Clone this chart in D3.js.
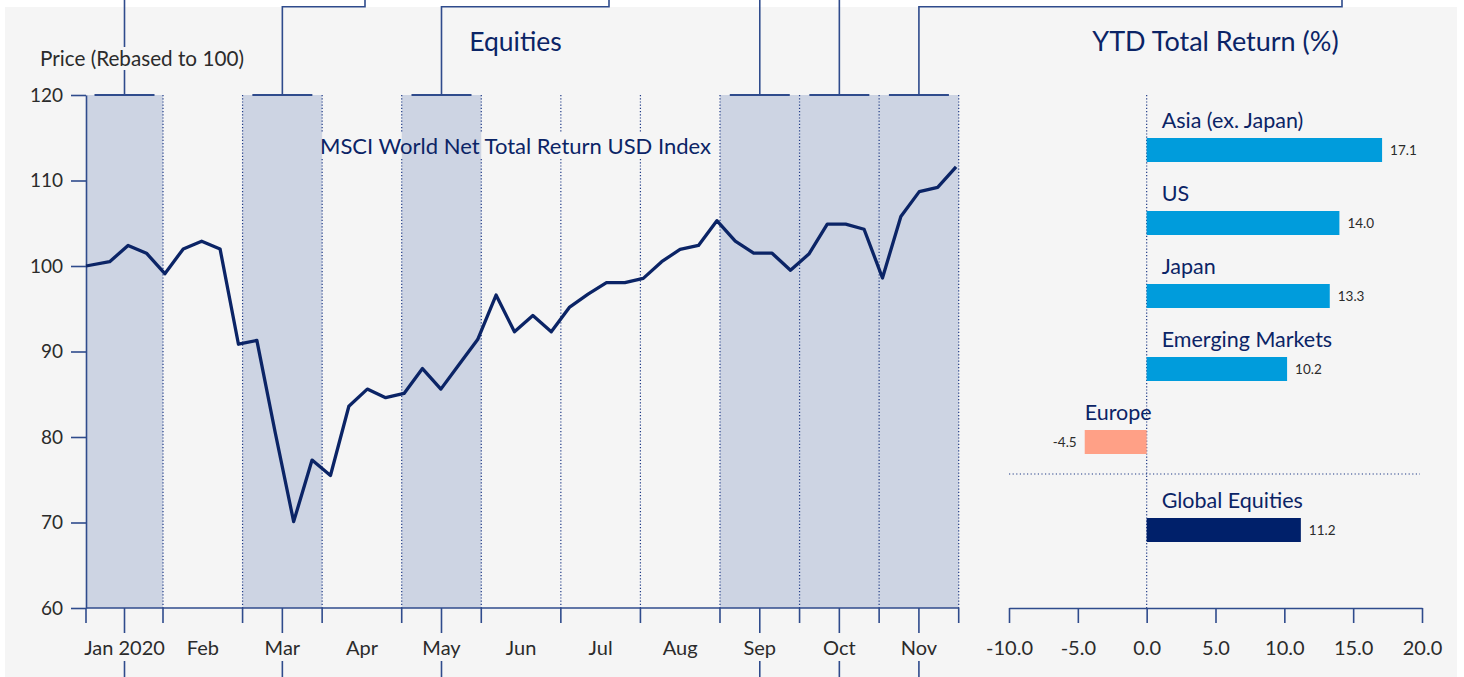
<!DOCTYPE html>
<html>
<head>
<meta charset="utf-8">
<script src="https://cdn.jsdelivr.net/npm/d3@7"></script>
<style>
  body { margin: 0; background: #fff; }
  text { font-family: Lato, "Open Sans", sans-serif; }
</style>
</head>
<body>
<div class="chart"></div>
<script>
// ---- data ----
const dates = [
  '2020-01-01', '2020-01-10', '2020-01-17', '2020-01-24', '2020-01-31',
  '2020-02-07', '2020-02-14', '2020-02-21', '2020-02-28',
  '2020-03-06', '2020-03-13', '2020-03-20', '2020-03-27',
  '2020-04-03', '2020-04-10', '2020-04-17', '2020-04-24',
  '2020-05-01', '2020-05-08', '2020-05-15', '2020-05-22', '2020-05-29',
  '2020-06-05', '2020-06-12', '2020-06-19', '2020-06-26',
  '2020-07-03', '2020-07-10', '2020-07-17', '2020-07-24', '2020-07-31',
  '2020-08-07', '2020-08-14', '2020-08-21', '2020-08-28',
  '2020-09-04', '2020-09-11', '2020-09-18', '2020-09-25',
  '2020-10-02', '2020-10-09', '2020-10-16', '2020-10-23', '2020-10-30',
  '2020-11-06', '2020-11-13', '2020-11-20', '2020-11-27'
];
const msciWorld = [
  100.0, 100.5, 102.4, 101.5, 99.1,
  102.0, 102.9, 102.0, 90.85,
  91.3, 80.5, 70.1, 77.3,
  75.5, 83.6, 85.6, 84.6,
  85.1, 88.0, 85.6, 88.5, 91.4,
  96.6, 92.3, 94.2, 92.3,
  95.2, 96.7, 98.05, 98.05, 98.55,
  100.5, 101.95, 102.4, 105.3,
  102.9, 101.5, 101.5, 99.5,
  101.4, 104.9, 104.9, 104.3, 98.6,
  105.8, 108.7, 109.2, 111.6
];
const months = ['Jan 2020', 'Feb', 'Mar', 'Apr', 'May', 'Jun', 'Jul', 'Aug', 'Sep', 'Oct', 'Nov'];
const shadedMonths = ['Jan 2020', 'Mar', 'May', 'Sep', 'Oct', 'Nov'];
const priceTicks = [60, 70, 80, 90, 100, 110, 120];

const regions = ['Asia (ex. Japan)', 'US', 'Japan', 'Emerging Markets', 'Europe', 'Global Equities'];
const ytdReturn = [17.1, 14.0, 13.3, 10.2, -4.5, 11.2];
const returnTicks = [-10, -5, 0, 5, 10, 15, 20];

// ---- layout ----
const W = 1464, H = 677;
const navy = '#0b2466', axisCol = '#2f4b8c', textGrey = '#2b2b2b', panel = '#f5f5f5';
const plotTop = 95, plotBottom = 608;
const leaderTops = {'Mar': 365, 'May': 609, 'Nov': 1342};   // where the cut-off annotation leaders exit the frame
const fmt = d => d.toFixed(1);   // plain hyphen for negatives, like the original

const svg = d3.select('.chart').append('svg')
    .attr('width', W).attr('height', H);

svg.append('rect').attr('width', W).attr('height', H).attr('fill', '#fff');
svg.append('rect').attr('x', 5).attr('y', 7).attr('width', 1452).attr('height', H - 7).attr('fill', panel);

// ---- left: line chart ----
let yScale = d3.scaleLinear().domain([60, 120]).range([plotBottom, plotTop]);
// months are drawn as equal-width bands; the first trading day sits a little into January
let monthEdge = d3.scaleLinear().domain([1 / 31, months.length]).range([86, 958.7]);
let xTime = d3.scaleTime()
    .domain([new Date(2020, 0, 1), new Date(2020, 10, 28)])
    .range([86, 958.7]);

const edges = [1 / 31].concat(d3.range(1, months.length + 1));
const monthInfo = months.map((m, i) => {
  const x0 = monthEdge(edges[i]), x1 = monthEdge(edges[i + 1]);
  return {name: m, x0, x1, cx: (x0 + x1) / 2, shaded: shadedMonths.includes(m)};
});

// shaded bands
svg.append('g').selectAll('rect')
  .data(monthInfo.filter(d => d.shaded))
  .join('rect')
    .attr('x', d => d.x0).attr('y', plotTop)
    .attr('width', d => d.x1 - d.x0).attr('height', plotBottom - plotTop)
    .attr('fill', '#cdd4e3');

// dotted month boundaries (masked later under the series label)
const mask = svg.append('defs').append('mask').attr('id', 'label-gap')
    .attr('maskUnits', 'userSpaceOnUse')
    .attr('x', 0).attr('y', 0).attr('width', W).attr('height', H);
mask.append('rect').attr('width', W).attr('height', H).attr('fill', '#fff');

svg.append('g')
    .attr('mask', 'url(#label-gap)')
  .selectAll('line')
  .data(edges.slice(1))
  .join('line')
    .attr('x1', d => monthEdge(d)).attr('x2', d => monthEdge(d))
    .attr('y1', plotTop).attr('y2', plotBottom)
    .attr('stroke', '#1f3a86').attr('stroke-width', 1.2)
    .attr('stroke-dasharray', '1.2,2');

// annotation leaders (cut off by the frame)
const leaders = svg.append('g').attr('stroke', axisCol).attr('stroke-width', 1.6).attr('fill', 'none');
monthInfo.filter(d => d.shaded).forEach(d => {
  leaders.append('line')
      .attr('x1', d.cx - 30).attr('x2', d.cx + 30)
      .attr('y1', plotTop).attr('y2', plotTop)
      .attr('stroke-width', 2);
  const key = d.name;
  if (leaderTops[key]) {
    leaders.append('path')
        .attr('d', `M${d.cx},${plotTop}V6.7H${leaderTops[key]}V0`);
  } else {
    leaders.append('line')
        .attr('x1', d.cx).attr('x2', d.cx).attr('y1', plotTop).attr('y2', 0);
  }
  leaders.append('line')
      .attr('x1', d.cx).attr('x2', d.cx).attr('y1', plotBottom).attr('y2', H);
});

// y axis
let yAxis = d3.axisLeft(yScale)
    .tickValues(priceTicks)
    .tickSize(15)
    .tickSizeOuter(0)
    .tickPadding(8);
let gy = svg.append('g')
    .attr('transform', 'translate(86, 0)')
    .call(yAxis);
gy.select('.domain').attr('stroke', axisCol).attr('stroke-width', 1.6);
gy.selectAll('.tick line').attr('stroke', axisCol).attr('stroke-width', 1.6);
gy.selectAll('.tick text')
    .attr('fill', textGrey).style('font-size', '19px').style('font-family', 'Lato');

// x axis: boundary ticks
let gx = svg.append('g');
gx.append('line')
    .attr('x1', monthEdge(edges[0])).attr('x2', monthEdge(months.length))
    .attr('y1', plotBottom).attr('y2', plotBottom)
    .attr('stroke', axisCol).attr('stroke-width', 1.6);
gx.selectAll('line.edge')
  .data(edges)
  .join('line')
    .attr('class', 'edge')
    .attr('x1', d => monthEdge(d)).attr('x2', d => monthEdge(d))
    .attr('y1', plotBottom).attr('y2', plotBottom + 15)
    .attr('stroke', axisCol).attr('stroke-width', 1.6);
const monthLabels = gx.selectAll('g.mlabel')
  .data(monthInfo)
  .join('g')
    .attr('class', 'mlabel')
    .attr('transform', d => `translate(${d.cx}, 655)`);
monthLabels.filter(d => d.shaded).append('rect')
    .attr('x', -6).attr('y', -22).attr('width', 12).attr('height', 28)
    .attr('fill', panel);
monthLabels.append('text')
    .attr('text-anchor', 'middle')
    .attr('fill', textGrey)
    .style('font-size', '20px')
    .text(d => d.name);

// price line
const series = dates.map((d, i) => ({date: d3.timeParse('%Y-%m-%d')(d), v: msciWorld[i]}));
svg.append('path')
    .datum(series)
    .attr('d', d3.line().x(d => xTime(d.date)).y(d => yScale(d.v)))
    .attr('fill', 'none')
    .attr('stroke', navy)
    .attr('stroke-width', 3.3)
    .attr('stroke-linejoin', 'round');

const seriesLabel = svg.append('text')
    .attr('x', 320).attr('y', 154)
    .attr('fill', navy)
    .style('font-size', '22px')
    .text('MSCI World Net Total Return USD Index');
const lb = seriesLabel.node().getBBox();
mask.append('rect')
    .attr('x', lb.x - 2).attr('y', lb.y)
    .attr('width', lb.width + 4).attr('height', lb.height)
    .attr('fill', '#000');

// axis title with a mask so the Jan leader breaks behind it
const priceLabel = svg.append('g');
priceLabel.append('rect').attr('x', 100).attr('y', 47).attr('width', 40).attr('height', 23).attr('fill', panel);
priceLabel.append('text')
    .attr('x', 40).attr('y', 66)
    .attr('fill', textGrey)
    .style('font-size', '20.7px')
    .text('Price (Rebased to 100)');

svg.append('text')
    .attr('x', 515.5).attr('y', 51)
    .attr('text-anchor', 'middle')
    .attr('fill', navy)
    .style('font-size', '26.5px')
    .text('Equities');

// ---- right: YTD bars ----
let xBar = d3.scaleLinear().domain([-10, 20]).range([1009, 1422]);
let yBar = d3.scaleBand()
    .domain(regions)
    .range([101.5, 563.5])
    .paddingInner(49 / 73)
    .paddingOuter(0.5);
const globalGap = 15;
const barY = r => yBar(r) + (r === 'Global Equities' ? globalGap : 0);
const barColour = (r, v) => r === 'Global Equities' ? '#00206a' : (v < 0 ? '#ffa086' : '#009cdc');

svg.append('text')
    .attr('x', (xBar(-10) + xBar(20)) / 2).attr('y', 51)
    .attr('text-anchor', 'middle')
    .attr('fill', navy)
    .style('font-size', '27px')
    .text('YTD Total Return (%)');

svg.append('line')
    .attr('x1', xBar(0)).attr('x2', xBar(0))
    .attr('y1', plotTop).attr('y2', plotBottom)
    .attr('stroke', '#1f3a86').attr('stroke-width', 1.2)
    .attr('stroke-dasharray', '1.2,2');

const sepY = barY('Europe') + yBar.bandwidth() + 20;
svg.append('line')
    .attr('x1', xBar(-10)).attr('x2', xBar(20) - 2)
    .attr('y1', sepY).attr('y2', sepY)
    .attr('stroke', '#1f3a86').attr('stroke-width', 1.2)
    .attr('stroke-dasharray', '1.2,2.4');

const bars = svg.append('g').selectAll('g')
  .data(regions.map((r, i) => ({r, v: ytdReturn[i]})))
  .join('g');

bars.append('rect')
    .attr('x', d => xBar(Math.min(0, d.v)))
    .attr('y', d => barY(d.r))
    .attr('width', d => Math.abs(xBar(d.v) - xBar(0)))
    .attr('height', yBar.bandwidth())
    .attr('fill', d => barColour(d.r, d.v));

bars.append('text')
    .attr('x', d => d.v < 0 ? xBar(d.v) : xBar(0) + 15)
    .attr('y', d => barY(d.r) - 10)
    .attr('fill', navy)
    .style('font-size', '21.5px')
    .text(d => d.r);

bars.append('text')
    .attr('x', d => d.v < 0 ? xBar(d.v) - 8 : xBar(d.v) + 8)
    .attr('y', d => barY(d.r) + yBar.bandwidth() / 2)
    .attr('dy', '0.38em')
    .attr('text-anchor', d => d.v < 0 ? 'end' : 'start')
    .attr('fill', textGrey)
    .style('font-size', '13.5px')
    .text(d => fmt(d.v));

let barAxis = d3.axisBottom(xBar)
    .tickValues(returnTicks)
    .tickFormat(fmt)
    .tickSize(15)
    .tickSizeOuter(0)
    .tickPadding(18);
let gb = svg.append('g')
    .attr('transform', `translate(0, ${plotBottom})`)
    .call(barAxis);
gb.select('.domain').attr('stroke', axisCol).attr('stroke-width', 1.6);
gb.selectAll('.tick line').attr('stroke', axisCol).attr('stroke-width', 1.6);
gb.selectAll('.tick text')
    .attr('fill', textGrey).style('font-size', '20px').style('font-family', 'Lato');
</script>
</body>
</html>
